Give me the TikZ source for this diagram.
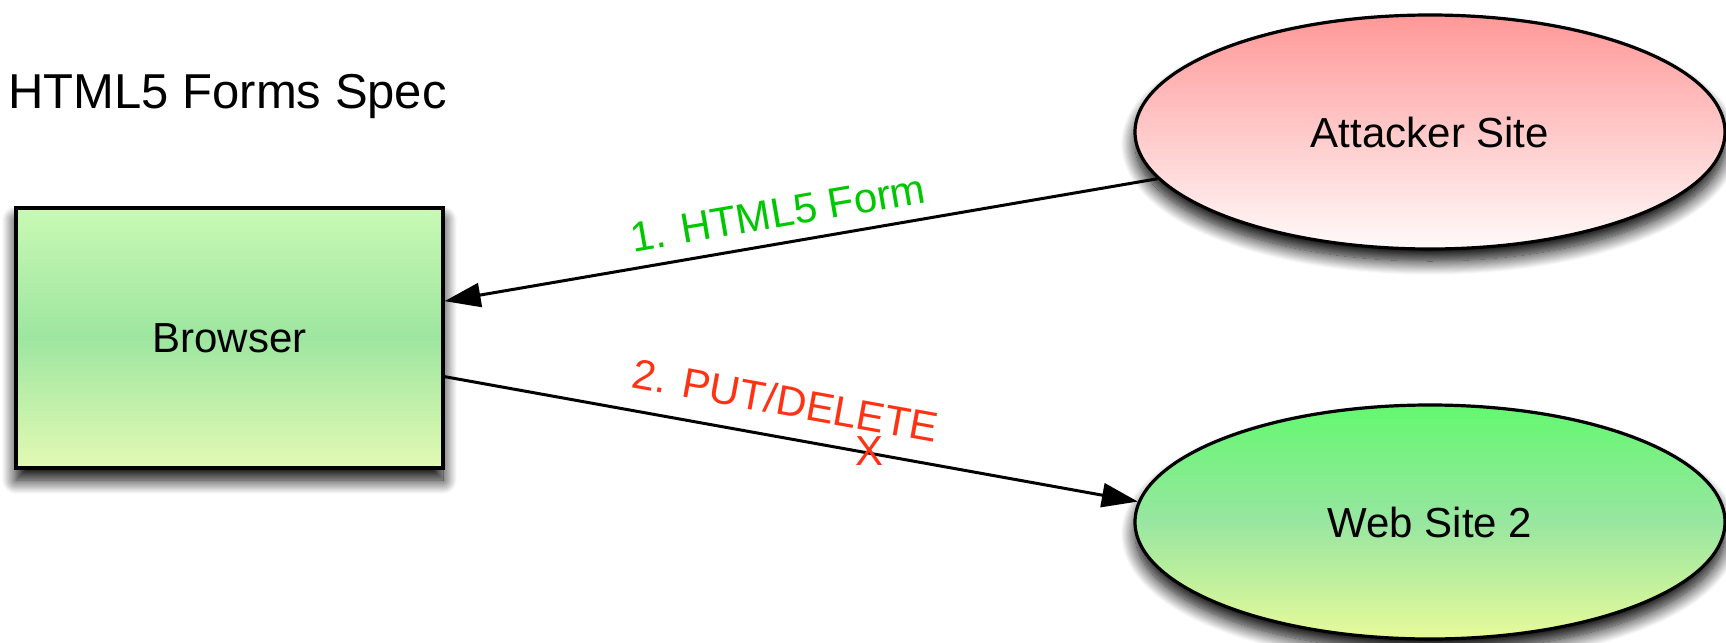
\documentclass[tikz,border=0pt]{standalone}
\usepackage{fontspec}
\setmainfont{Liberation Sans}
\usetikzlibrary{shapes.geometric, arrows.meta, shadows.blur}

\definecolor{browserTop}{RGB}{200,249,180}
\definecolor{browserMid}{RGB}{158,230,160}
\definecolor{browserBot}{RGB}{226,250,180}
\definecolor{attackTop}{RGB}{255,152,152}
\definecolor{attackBot}{RGB}{255,250,250}
\definecolor{webTop}{RGB}{100,248,112}
\definecolor{webMid}{RGB}{152,230,160}
\definecolor{webBot}{RGB}{232,250,154}
\definecolor{okGreen}{RGB}{0,200,0}
\definecolor{failRed}{RGB}{255,50,20}

\begin{document}
\begin{tikzpicture}[x=0.5pt, y=-0.5pt,
  every node/.style={inner sep=0pt},
  labelfont/.style={font=\fontsize{21}{25}\selectfont},
  shadowed/.style={blur shadow={shadow xshift=0pt, shadow yshift=-6pt,
      shadow blur radius=7pt, shadow blur steps=16, shadow opacity=100}},
  box/.style={rectangle, draw=black, line width=1.6pt,
      minimum width=213.5pt, minimum height=130pt, labelfont, shadowed},
  site/.style={ellipse, draw=black, line width=1.6pt,
      minimum width=295pt, minimum height=117pt, labelfont, shadowed},
  linkto/.style={line width=1.5pt, -{Triangle[length=18pt, width=12pt]}},
  linkfrom/.style={line width=1.5pt, {Triangle[length=18pt, width=12pt]}-},
]
\useasboundingbox (0,0) rectangle (1726,643);

% heading
\node[anchor=base west, font=\fontsize{24.5}{29}\selectfont] (title) at (8,108) {HTML5 Forms Spec};

% the three parties
\node[box, top color=browserTop, bottom color=browserBot, middle color=browserMid]
  (browser) at (229.5,338) {Browser};
\node[site, top color=attackTop, bottom color=attackBot]
  (attacker) at (1430,132) {Attacker Site};
\node[site, top color=webTop, bottom color=webBot, middle color=webMid]
  (web) at (1430,522) {Web Site 2};

% step 1: the attacker serves the form
\draw[linkfrom] (browser) -- (attacker)
  node[pos=0.475, sloped, above=7pt, labelfont, text=okGreen] (lbl1) {1. HTML5 Form};

% step 2: the blocked request
\draw[linkto] (browser) -- (web.176)
  node[pos=0.482, sloped, above=10pt, labelfont, text=failRed] (lbl2) {2. PUT/DELETE}
  node[pos=0.613, yshift=1pt, labelfont, text=failRed] (cross) {X};
\end{tikzpicture}
\end{document}
